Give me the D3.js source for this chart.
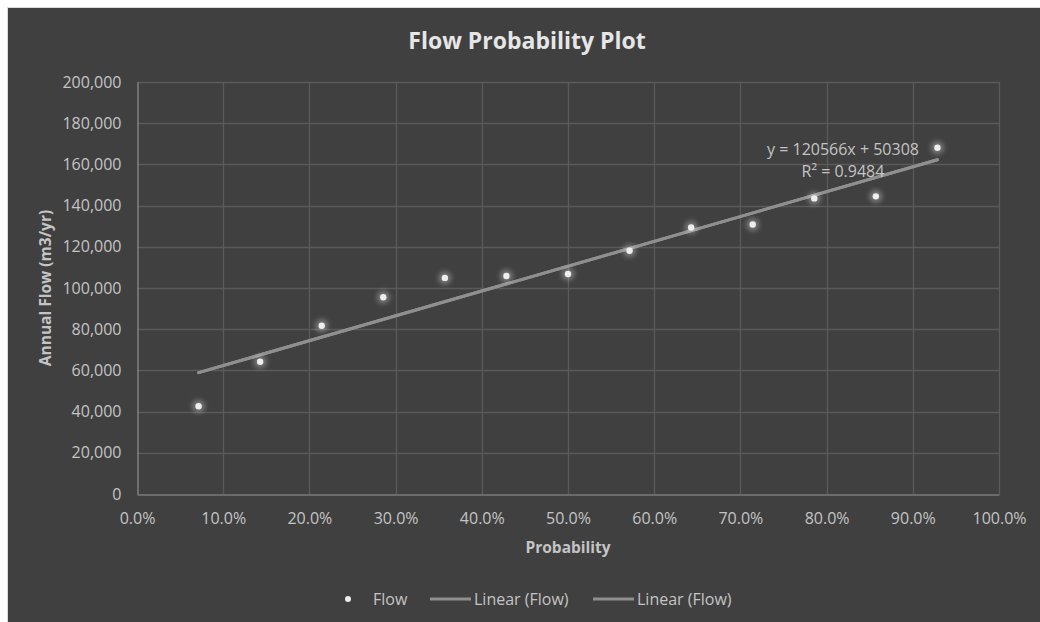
<!DOCTYPE html>
<html>
<head>
<meta charset="utf-8">
<script src="https://cdn.jsdelivr.net/npm/d3@7"></script>
<style>
  body { margin: 0; background: #ffffff; }
  text { font-family: 'Open Sans', sans-serif; }
</style>
</head>
<body>
<div class="chart"></div>
<script>
'use strict'

// Data.
const probability = [1/14, 2/14, 3/14, 4/14, 5/14, 6/14, 7/14, 8/14, 9/14, 10/14, 11/14, 12/14, 13/14];
const flow = [42600, 64200, 81700, 95500, 104900, 105800, 106800, 118100, 129400, 130800, 143500, 144500, 168100];
const trendSlope = 120566;
const trendIntercept = 50308;
const rSquared = 0.9484;
const xTicks = [0, 0.1, 0.2, 0.3, 0.4, 0.5, 0.6, 0.7, 0.8, 0.9, 1.0];
const yTicks = [0, 20000, 40000, 60000, 80000, 100000, 120000, 140000, 160000, 180000, 200000];
const legendItems = ['Flow', 'Linear (Flow)', 'Linear (Flow)'];

let data = probability.map((p, i) => ({p: p, flow: flow[i]}));

// Dimensions.
let width = 1040,
    height = 622,
    margin = {top: 82, right: 41, bottom: 128, left: 137};

let svg = d3.select('.chart')
    .append('svg')
        .attr('width', width)
        .attr('height', height);

// Glow for the markers.
let defs = svg.append('defs');
defs.append('filter')
    .attr('id', 'glow')
    .attr('x', '-100%').attr('y', '-100%')
    .attr('width', '300%').attr('height', '300%')
    .append('feGaussianBlur')
        .attr('stdDeviation', 2.5);

// Chart background.
svg.append('rect')
    .attr('x', 7.5)
    .attr('y', 7.5)
    .attr('width', width)
    .attr('height', height)
    .attr('fill', '#404040')
    .attr('stroke', '#d9d9d9')
    .attr('stroke-width', 1);

// Scales.
let x = d3.scaleLinear()
    .domain([0, 1])
    .range([margin.left, width - margin.right]);

let y = d3.scaleLinear()
    .domain([0, 200000])
    .range([height - margin.bottom, margin.top]);

// Gridlines.
svg.append('g')
    .selectAll('line.h')
    .data(yTicks.filter(d => d > 0))
    .join('line')
        .attr('x1', x(0))
        .attr('x2', x(1))
        .attr('y1', d => Math.round(y(d)) + 0.5)
        .attr('y2', d => Math.round(y(d)) + 0.5)
        .attr('stroke', '#5a5a5a')
        .attr('stroke-width', 1.3);

svg.append('g')
    .selectAll('line.v')
    .data(xTicks.filter(d => d > 0))
    .join('line')
        .attr('x1', d => Math.round(x(d)) + 0.5)
        .attr('x2', d => Math.round(x(d)) + 0.5)
        .attr('y1', y(0))
        .attr('y2', y(200000))
        .attr('stroke', '#5a5a5a')
        .attr('stroke-width', 1.3);

// Axes.
let xAxis = d3.axisBottom(x)
    .tickValues(xTicks)
    .tickFormat(d3.format('.1%'))
    .tickSize(0)
    .tickPadding(18);

svg.append('g')
    .attr('transform', `translate(0, ${Math.round(y(0)) + 0.5})`)
    .call(xAxis)
    .call(g => g.select('.domain').attr('stroke', '#7a7a7a').attr('stroke-width', 1.3))
    .call(g => g.selectAll('text')
        .attr('fill', '#c4c4c4')
        .style('font-size', '16px')
        .style('font-family', "'Open Sans', sans-serif"));

let yAxis = d3.axisLeft(y)
    .tickValues(yTicks)
    .tickFormat(d3.format(','))
    .tickSize(0)
    .tickPadding(16);

svg.append('g')
    .attr('transform', `translate(${Math.round(x(0)) + 0.5}, 0)`)
    .call(yAxis)
    .call(g => g.select('.domain').attr('stroke', '#8a8a8a').attr('stroke-width', 1.3))
    .call(g => g.selectAll('text')
        .attr('fill', '#c4c4c4')
        .style('font-size', '16px')
        .style('font-family', "'Open Sans', sans-serif"));

// Trendline (two identical trendlines in the source).
let trendData = d3.extent(probability).map(p => ({p: p, flow: trendSlope * p + trendIntercept}));
let line = d3.line()
    .x(d => x(d.p))
    .y(d => y(d.flow));

[0, 1].forEach(() => {
    svg.append('path')
        .datum(trendData)
        .attr('d', line)
        .attr('fill', 'none')
        .attr('stroke', '#8f8f8f')
        .attr('stroke-width', 3)
        .attr('stroke-linecap', 'round');
});

// Points.
let points = svg.append('g');

points.selectAll('circle.halo')
    .data(data)
    .join('circle')
        .attr('class', 'halo')
        .attr('cx', d => x(d.p))
        .attr('cy', d => y(d.flow))
        .attr('r', 6.5)
        .attr('fill', '#ffffff')
        .attr('opacity', 0.3)
        .attr('filter', 'url(#glow)');

points.selectAll('circle.pop')
    .data(data)
    .join('circle')
        .attr('class', 'pop')
        .attr('cx', d => x(d.p))
        .attr('cy', d => y(d.flow))
        .attr('r', 3.2)
        .attr('fill', '#eeeeee');

// Trendline equation.
let eqX = x(0.819),
    eqY = y(164500);

svg.append('text')
    .attr('x', eqX)
    .attr('y', eqY)
    .attr('text-anchor', 'middle')
    .attr('fill', '#c4c4c4')
    .style('font-size', '16px')
    .text(`y = ${trendSlope}x + ${trendIntercept}`);

svg.append('text')
    .attr('x', eqX)
    .attr('y', eqY + 22)
    .attr('text-anchor', 'middle')
    .attr('fill', '#c4c4c4')
    .style('font-size', '16px')
    .text(`R² = ${rSquared}`);

// Title.
svg.append('text')
    .attr('x', 527)
    .attr('y', 49)
    .attr('text-anchor', 'middle')
    .attr('fill', '#e6e6e6')
    .style('font-size', '23px')
    .style('font-weight', 'bold')
    .text('Flow Probability Plot');

// Axis titles.
svg.append('text')
    .attr('x', (x(0) + x(1)) / 2)
    .attr('y', 553)
    .attr('text-anchor', 'middle')
    .attr('fill', '#c4c4c4')
    .style('font-size', '15.5px')
    .style('font-weight', 'bold')
    .text('Probability');

svg.append('text')
    .attr('transform', `translate(51, ${(y(0) + y(200000)) / 2}) rotate(-90)`)
    .attr('text-anchor', 'middle')
    .attr('fill', '#c4c4c4')
    .style('font-size', '15.5px')
    .style('font-weight', 'bold')
    .text('Annual Flow (m3/yr)');

// Legend.
let legend = svg.append('g')
    .attr('transform', 'translate(0, 599)');

let legendX = [348, 430, 593];

legendItems.forEach((name, i) => {
    let item = legend.append('g')
        .attr('transform', `translate(${legendX[i]}, 0)`);
    if (i === 0) {
        item.append('circle')
            .attr('r', 3)
            .attr('fill', '#eeeeee');
        item.append('text')
            .attr('x', 25)
            .attr('y', 6)
            .attr('fill', '#c4c4c4')
            .style('font-size', '16px')
            .text(name);
    } else {
        item.append('line')
            .attr('x1', 0)
            .attr('x2', 41)
            .attr('stroke', '#8f8f8f')
            .attr('stroke-width', 3);
        item.append('text')
            .attr('x', 44)
            .attr('y', 6)
            .attr('fill', '#c4c4c4')
            .style('font-size', '16px')
            .text(name);
    }
});
</script>
</body>
</html>
